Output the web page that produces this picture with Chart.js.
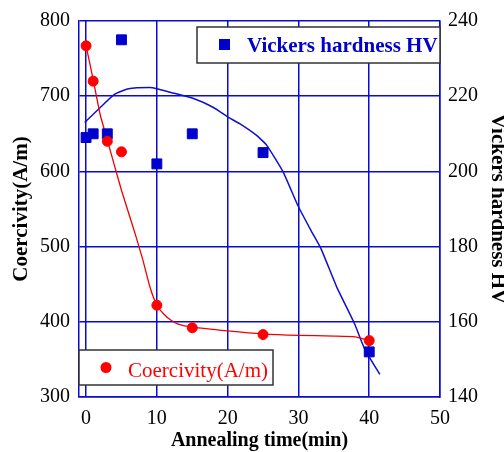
<!DOCTYPE html>
<html>
<head>
<meta charset="utf-8">
<script src="https://cdn.jsdelivr.net/npm/chart.js@4"></script>
<style>
  body { margin: 0; background: #fff; }
  #wrap { width: 504px; height: 452px; position: relative; }
</style>
</head>
<body>
<div id="wrap"><canvas id="myChart"></canvas></div>
<script>
// measured points
const coerTime = [0, 1, 3, 5, 10, 15, 25, 40];
const coercivity = [767, 720, 640, 626, 422, 392, 383, 375];
const hvTime = [0, 1, 3, 5, 10, 15, 25, 40];
const hardness = [209, 210, 210, 235, 202, 210, 205, 152];

// fitted curves
const coerFitTime = [0, 1, 2, 3, 4, 5, 6, 7, 8, 9, 10, 11, 12, 13, 15, 20, 25, 30, 35, 38, 40];
const coerFit = [767, 722, 675, 642, 608, 575, 545, 515, 483, 447, 422, 410, 402, 397, 393, 388, 384, 382, 381, 380, 375];
const hvFitTime = [-0.2, 2, 4, 6, 9, 10, 12, 15, 18, 20, 21.7, 24, 25.5, 27.8, 29.9, 31.8, 33.2, 35.4, 37.9, 39.4, 41.5];
const hvFit = [213, 217, 220.5, 222, 222.3, 222, 221, 219.5, 217, 214.5, 212.7, 209.7, 207, 200, 191, 184.2, 179.4, 169.3, 159.6, 152.6, 146];

const xTicks = [0, 10, 20, 30, 40, 50];
const yTicks = [300, 400, 500, 600, 700, 800];
const hvTicks = [140, 160, 180, 200, 220, 240];

const serif = "'Times New Roman', 'Liberation Serif', serif";
const gridBlue = 'rgb(10,10,210)';

function pts(xs, ys) {
  return xs.map((x, i) => ({ x: x, y: ys[i] }));
}

// the two legend boxes sit inside the plot
const legendBoxes = {
  id: 'legendBoxes',
  afterDatasetsDraw(chart) {
    const ctx = chart.ctx;
    ctx.save();
    ctx.lineWidth = 1.5;
    ctx.strokeStyle = '#333';

    ctx.fillStyle = '#fff';
    ctx.fillRect(197, 27, 243, 36);
    ctx.strokeRect(197, 27, 243, 36);
    ctx.fillStyle = '#0000cc';
    ctx.fillRect(219, 39, 11, 11);
    ctx.font = 'bold 21px ' + serif;
    ctx.textBaseline = 'alphabetic';
    ctx.fillText('Vickers hardness HV', 247, 52);

    ctx.fillStyle = '#fff';
    ctx.fillRect(79, 350, 194, 35);
    ctx.strokeRect(79, 350, 194, 35);
    ctx.fillStyle = '#ff0000';
    ctx.beginPath();
    ctx.arc(106, 367.5, 5.5, 0, Math.PI * 2);
    ctx.fill();
    ctx.font = '21px ' + serif;
    ctx.fillText('Coercivity(A/m)', 128, 376.5);
    ctx.restore();
  }
};

function setTicks(list) {
  return function (scale) {
    scale.ticks = list.map(v => ({ value: v }));
  };
}

const ctx = document.getElementById('myChart');
const myChart = new Chart(ctx, {
  type: 'scatter',
  data: {
    datasets: [{
      label: 'Coercivity(A/m)',
      data: pts(coerTime, coercivity),
      yAxisID: 'y',
      backgroundColor: '#ff0000',
      borderColor: '#ff0000',
      borderWidth: 1,
      pointRadius: 5,
      showLine: false
    }, {
      label: 'Vickers hardness HV',
      data: pts(hvTime, hardness),
      yAxisID: 'y1',
      backgroundColor: '#0000cc',
      borderColor: '#0000cc',
      borderWidth: 1,
      pointStyle: 'rect',
      pointRadius: 7,
      showLine: false
    }, {
      label: 'coer fit',
      data: pts(coerFitTime, coerFit),
      yAxisID: 'y',
      borderColor: '#ee0000',
      borderWidth: 1.3,
      pointRadius: 0,
      showLine: true,
      tension: 0.15
    }, {
      label: 'hv fit',
      data: pts(hvFitTime, hvFit),
      yAxisID: 'y1',
      borderColor: '#1010cc',
      borderWidth: 1.5,
      pointRadius: 0,
      showLine: true,
      tension: 0.15
    }]
  },
  options: {
    responsive: true,
    maintainAspectRatio: false,
    animation: false,
    layout: { padding: { top: 18, left: 0, right: 0, bottom: 0 } },
    plugins: {
      legend: { display: false },
      tooltip: { enabled: false }
    },
    scales: {
      x: {
        type: 'linear',
        min: -1,
        max: 50,
        afterBuildTicks: setTicks(xTicks),
        afterFit: function (scale) { scale.height = 55; },
        grid: { color: gridBlue, lineWidth: 1.5, drawTicks: false },
        border: { color: gridBlue, width: 1.5 },
        ticks: { color: '#000', padding: 10, font: { family: serif, size: 20 } },
        title: {
          display: true,
          text: 'Annealing time(min)',
          color: '#000',
          padding: { top: 0, bottom: -1 },
          font: { family: serif, size: 20, weight: 'bold' }
        }
      },
      y: {
        type: 'linear',
        position: 'left',
        min: 300,
        max: 800,
        afterBuildTicks: setTicks(yTicks),
        afterFit: function (scale) { scale.width = 79; },
        grid: { color: gridBlue, lineWidth: 1.5, drawTicks: false },
        border: { color: gridBlue, width: 1.5 },
        ticks: { color: '#000', padding: 9, font: { family: serif, size: 20 } },
        title: {
          display: true,
          text: 'Coercivity(A/m)',
          color: '#000',
          padding: { top: 9, bottom: 0 },
          font: { family: serif, size: 21, weight: 'bold' }
        }
      },
      y1: {
        type: 'linear',
        position: 'right',
        min: 140,
        max: 240,
        afterBuildTicks: setTicks(hvTicks),
        afterFit: function (scale) { scale.width = 64; },
        grid: { display: false, drawTicks: false },
        border: { color: gridBlue, width: 1.5 },
        ticks: { color: '#000', padding: 8, font: { family: serif, size: 20 } },
        title: {
          display: true,
          text: 'Vickers hardness HV',
          color: '#000',
          padding: { top: -6, bottom: 0 },
          font: { family: serif, size: 21, weight: 'bold' }
        }
      }
    }
  },
  plugins: [legendBoxes]
});
</script>
</body>
</html>
